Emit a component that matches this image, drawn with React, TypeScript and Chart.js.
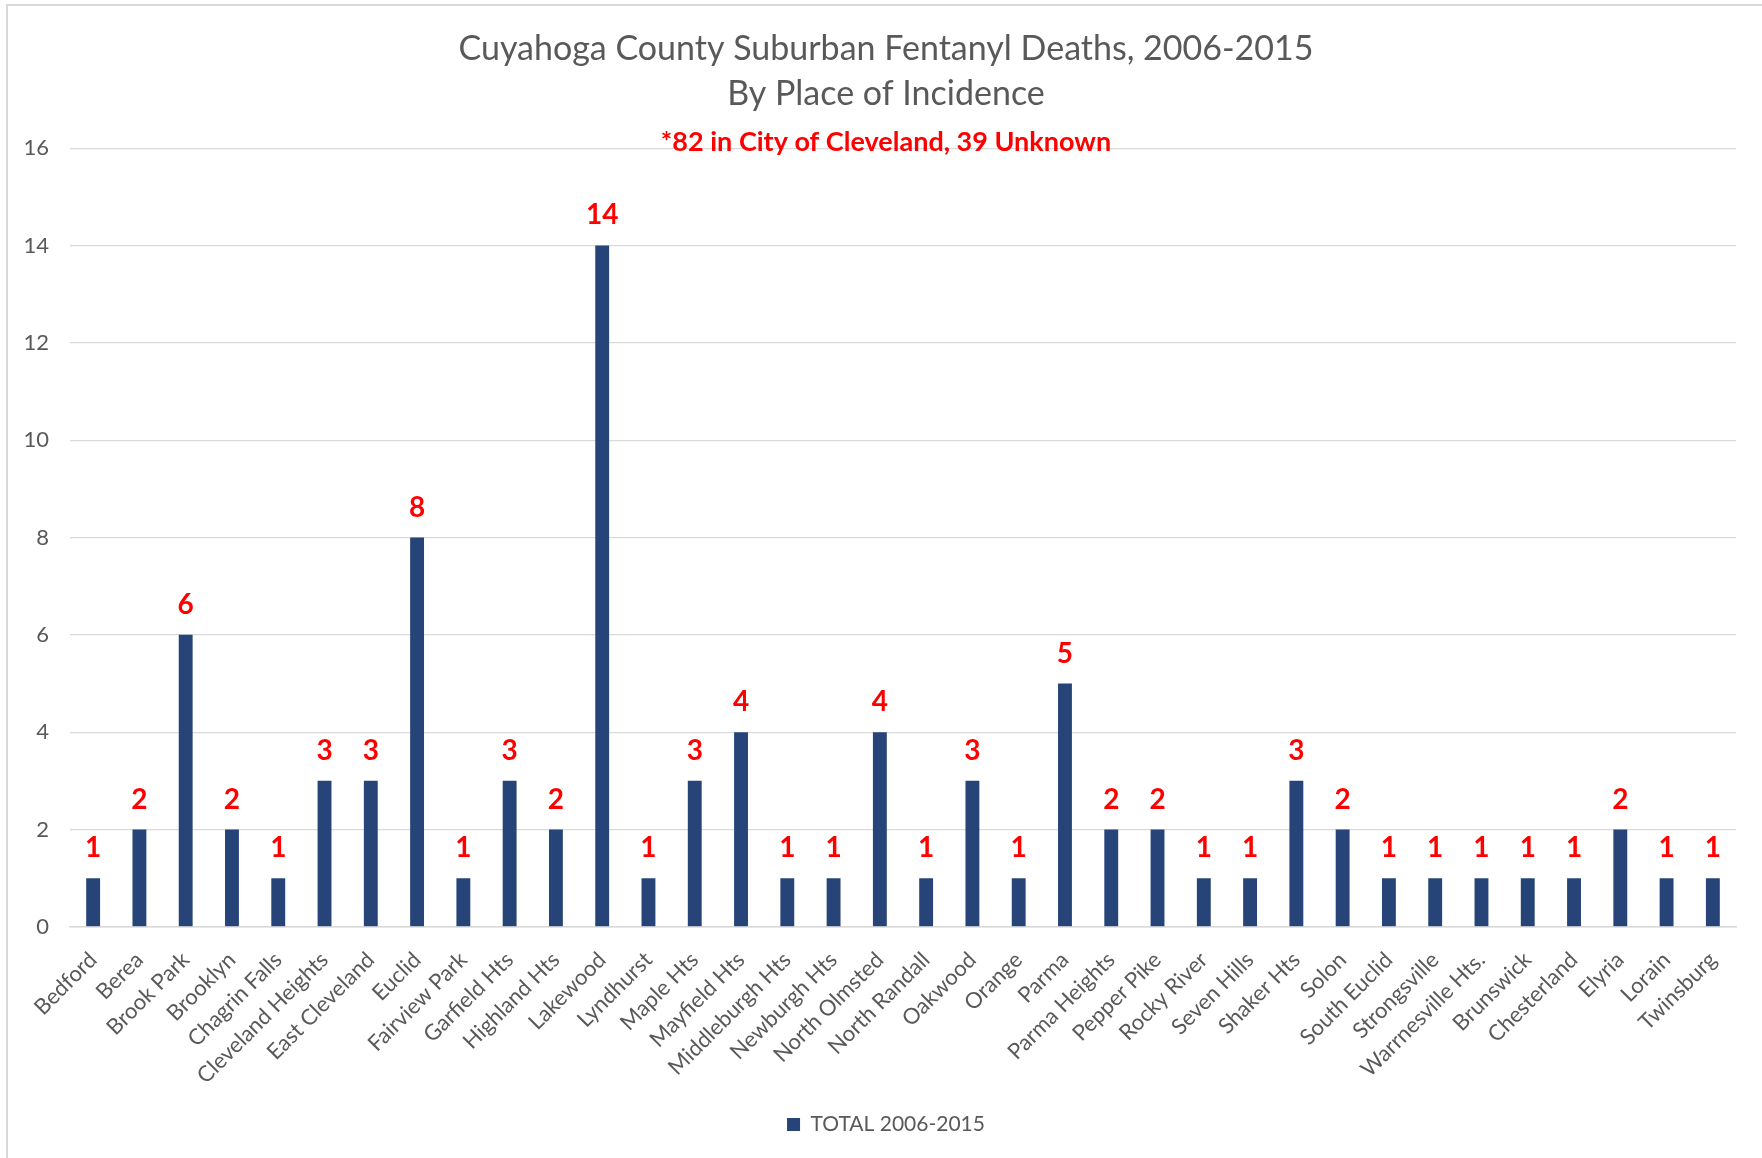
import React, { useEffect, useRef } from 'react';
import { Chart, registerables } from 'chart.js';

Chart.register(...registerables);

const categories = [
  'Bedford', 'Berea', 'Brook Park', 'Brooklyn', 'Chagrin Falls', 'Cleveland Heights',
  'East Cleveland', 'Euclid', 'Fairview Park', 'Garfield Hts', 'Highland Hts', 'Lakewood',
  'Lyndhurst', 'Maple Hts', 'Mayfield Hts', 'Middleburgh Hts', 'Newburgh Hts', 'North Olmsted',
  'North Randall', 'Oakwood', 'Orange', 'Parma', 'Parma Heights', 'Pepper Pike',
  'Rocky River', 'Seven Hills', 'Shaker Hts', 'Solon', 'South Euclid', 'Strongsville',
  'Warrnesville Hts.', 'Brunswick', 'Chesterland', 'Elyria', 'Lorain', 'Twinsburg',
];

const totals = [
  1, 2, 6, 2, 1, 3,
  3, 8, 1, 3, 2, 14,
  1, 3, 4, 1, 1, 4,
  1, 3, 1, 5, 2, 2,
  1, 1, 3, 2, 1, 1,
  1, 1, 1, 2, 1, 1,
];

const seriesLabel = 'TOTAL 2006-2015';
const titleLines = ['Cuyahoga County Suburban Fentanyl Deaths, 2006-2015', 'By Place of Incidence'];
const noteText = '*82 in City of Cleveland, 39 Unknown';
const yMin = 0;
const yMax = 16;
const yStep = 2;

const FONT = 'Lato, "Open Sans", sans-serif';
const GRAY = '#595959';
const BAR = '#264478';
const GRID = '#d9d9d9';

const valueLabels = {
  id: 'valueLabels',
  afterDatasetsDraw(chart: any) {
    const ctx = chart.ctx;
    const meta = chart.getDatasetMeta(0);
    const data = chart.data.datasets[0].data;
    ctx.save();
    ctx.font = `bold 28px ${FONT}`;
    ctx.fillStyle = '#ff0000';
    ctx.textAlign = 'center';
    ctx.textBaseline = 'alphabetic';
    meta.data.forEach((bar: any, i: number) => {
      ctx.fillText(String(data[i]), bar.x, bar.y - 21);
    });
    ctx.restore();
  },
};

export default function App() {
  const canvasRef = useRef<HTMLCanvasElement | null>(null);

  useEffect(() => {
    const canvas = canvasRef.current;
    if (!canvas) return;
    const chart = new Chart(canvas, {
      type: 'bar',
      data: {
        labels: categories,
        datasets: [
          {
            label: seriesLabel,
            data: totals,
            backgroundColor: BAR,
            borderColor: BAR,
            borderWidth: 0,
            categoryPercentage: 1,
            barPercentage: 0.3,
          },
        ],
      },
      options: {
        responsive: false,
        animation: false,
        devicePixelRatio: 1,
        layout: { padding: { left: 18, right: 18, top: 0, bottom: 23 } },
        plugins: {
          title: {
            display: true,
            text: titleLines,
            color: GRAY,
            font: { family: FONT, size: 34, weight: 'normal', lineHeight: 1.32 },
            padding: { top: 27, bottom: 7 },
          },
          subtitle: {
            display: true,
            text: noteText,
            color: '#ff0000',
            font: { family: FONT, size: 27, weight: 'bold', lineHeight: 1.2 },
            padding: { top: 2, bottom: -10 },
          },
          legend: {
            display: true,
            position: 'bottom',
            labels: {
              boxWidth: 13,
              boxHeight: 13,
              color: GRAY,
              font: { family: FONT, size: 21 },
              padding: 10,
            },
          },
          tooltip: { enabled: false },
        },
        scales: {
          x: {
            grid: { display: false },
            border: { display: true, color: GRID, width: 1.5 },
            ticks: {
              color: GRAY,
              font: { family: FONT, size: 22 },
              maxRotation: 45,
              minRotation: 45,
              autoSkip: false,
              padding: 12,
            },
            afterFit: (scale: any) => {
              scale.height += 3;
            },
          },
          y: {
            min: yMin,
            max: yMax,
            grid: { color: GRID, lineWidth: 1.3, drawTicks: false },
            border: { display: false },
            ticks: {
              stepSize: yStep,
              color: GRAY,
              font: { family: FONT, size: 22 },
              padding: 21,
            },
            afterFit: (scale: any) => {
              scale.width = 52;
            },
          },
          yRightSpace: {
            position: 'right',
            display: true,
            grid: { display: false, drawTicks: false },
            border: { display: false },
            ticks: { display: false },
            afterFit: (scale: any) => {
              scale.width = 18;
            },
          },
        },
      },
      plugins: [valueLabels],
    });
    return () => chart.destroy();
  }, []);

  return (
    <div
      style={{
        position: 'fixed',
        left: 0,
        top: 0,
        width: 1762,
        height: 1158,
        overflow: 'hidden',
        background: '#ffffff',
      }}
    >
      <canvas
        ref={canvasRef}
        width={1772}
        height={1168}
        style={{ position: 'absolute', left: 0, top: 0, width: 1772, height: 1168 }}
      />
      <div
        style={{
          position: 'absolute',
          left: 6,
          top: 4,
          width: 1790,
          height: 1190,
          border: '2px solid #d9d9d9',
          boxSizing: 'border-box',
          pointerEvents: 'none',
        }}
      />
    </div>
  );
}
